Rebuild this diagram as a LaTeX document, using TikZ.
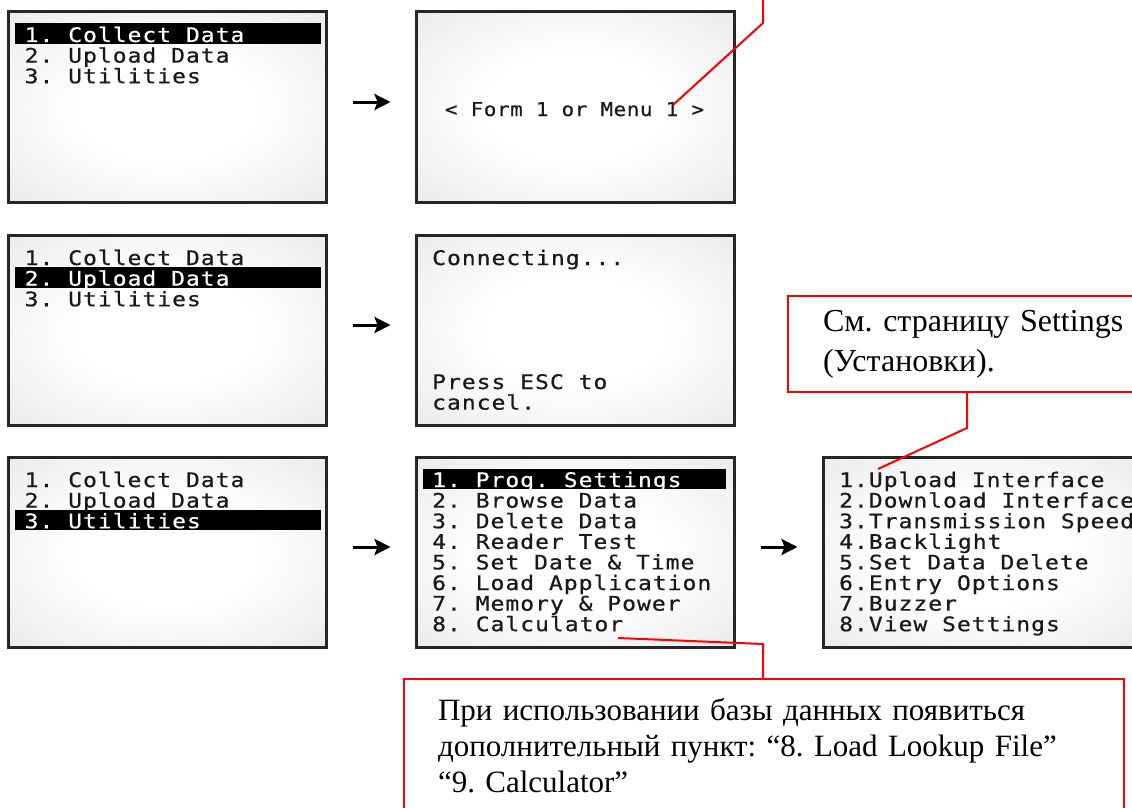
\documentclass[tikz,border=0pt]{standalone}
\usepackage{fontspec}
\setmainfont{Liberation Serif}
\newfontfamily\lcdfont[FakeStretch=1.15,LetterSpace=5,FakeBold=0.6]{DejaVu Sans Mono}
\newfontfamily\lcdfontb[FakeStretch=1.1,LetterSpace=3,FakeBold=0.5]{DejaVu Sans Mono}
\newfontfamily\notefont{Liberation Serif}
\frenchspacing
\usetikzlibrary{arrows.meta}
\pgfdeclareradialshading{lcdglow}{\pgfpoint{0bp}{0bp}}{%
  color(0bp)=(white); color(14bp)=(white); color(50bp)=(black!13); color(71bp)=(black!22)}
\tikzset{
  screen/.style={
    draw=black!85,
    line width=3pt,
    shading=lcdglow,
    minimum width=318pt,
    minimum height=190pt,
    inner sep=0pt
  },
  lcd/.style={
    font=\lcdfont\fontsize{20}{20}\selectfont,
    anchor=base west,
    inner sep=0pt,
    text=black!90
  },
  lcd b/.style={
    lcd,
    font=\lcdfontb\fontsize{19}{19}\selectfont,
    anchor=base
  },
  bar/.style={fill=black},
  go arrow/.style={
    -{Stealth[length=16pt,width=16pt,inset=3pt]},
    line width=3pt,
    shorten <=25pt,
    shorten >=24pt
  },
  callout/.style={
    draw=red,
    line width=2pt,
    fill=white,
    anchor=north west,
    align=left,
    inner ysep=14pt
  },
  note line/.style={red, line width=2pt}
}
\newcommand\lcdlines[5]{%
  \foreach \txt [count=\i from 1] in {#5} {
    \ifnum\i=#4 \def\ink{white}\else\def\ink{black!90}\fi
    \node[lcd, text=\ink] (#1-\i) at (#2,{#3+20.6*(\i-1)}) {\txt};
  }}

\begin{document}
\begin{tikzpicture}[x=1pt,y=-1pt]
  \useasboundingbox (0,0) rectangle (1132,808);
  \node[screen] (s11) at (167.5,107) {};
  \node[screen] (s12) at (575,107) {};
  \node[screen] (s21) at (167.5,330) {};
  \node[screen] (s22) at (575,330) {};
  \node[screen] (s31) at (167.5,552) {};
  \node[screen] (s32) at (575,552) {};
  \node[screen] (s33) at (982,552) {};
  % highlighted lines
  \fill[bar] (15,23.5) rectangle (321,44);
  \fill[bar] (15,267.1) rectangle (321,287.6);
  \fill[bar] (15,509.7) rectangle (321,530.2);
  \fill[bar] (423,468.5) rectangle (726,489);
  \lcdlines{s11}{24.5}{42}{1}{1. Collect Data,2. Upload Data,3. Utilities}
  \node[lcd b] (s12-1) at (574.5,116) {< Form 1 or Menu 1 >};
  \lcdlines{s21}{24.5}{265}{2}{1. Collect Data,2. Upload Data,3. Utilities}
  \node[lcd] (s22-1) at (432,265) {Connecting...};
  \node[lcd] (s22-2) at (432,389) {Press ESC to};
  \node[lcd] (s22-3) at (432,409.6) {cancel.};
  \lcdlines{s31}{24.5}{487}{3}{1. Collect Data,2. Upload Data,3. Utilities}
  \lcdlines{s32}{432}{487}{1}{1. Prog. Settings,2. Browse Data,3. Delete Data,4. Reader Test,5. Set Date \& Time,6. Load Application,7. Memory \& Power,8. Calculator}
  \lcdlines{s33}{839}{487}{0}{1.Upload Interface,2.Download Interface,3.Transmission Speed,4.Backlight,5.Set Data Delete,6.Entry Options,7.Buzzer,8.View Settings}
  \draw[go arrow] ([yshift=5pt]s11.east) -- ([yshift=5pt]s12.west);
  \draw[go arrow] ([yshift=5pt]s21.east) -- ([yshift=5pt]s22.west);
  \draw[go arrow] ([yshift=5pt]s31.east) -- ([yshift=5pt]s32.west);
  \draw[go arrow] ([yshift=5pt]s32.east) -- ([yshift=5pt]s33.west);
  % notes
  \node[callout, inner xsep=35pt, text width=330pt, font=\notefont\fontsize{32}{40}\selectfont] (note1) at (787,295)
    {См. страницу Settings\\(Установки).};
  \node[callout, inner xsep=34pt, inner ysep=19pt, text width=652pt, font=\notefont\fontsize{31}{36}\selectfont] (note2) at (403,678)
    {При использовании базы данных появиться\\дополнительный пункт: “8. Load Lookup File”\\“9. Calculator”};
  \coordinate (top) at (763,-3);
  \coordinate (k1) at (763,23);
  \coordinate (m1) at (673,105);
  \draw[note line] (top) -- (k1) -- (m1);
  \coordinate (u1) at (878,469);
  \draw[note line] ([xshift=180pt]note1.south west) -- ++(0,35) -- (u1);
  \coordinate (c8) at (618,638);
  \coordinate (k2) at (763,644);
  \draw[note line] (c8) -- (k2) -- (k2 |- note2.north);
\end{tikzpicture}
\end{document}
